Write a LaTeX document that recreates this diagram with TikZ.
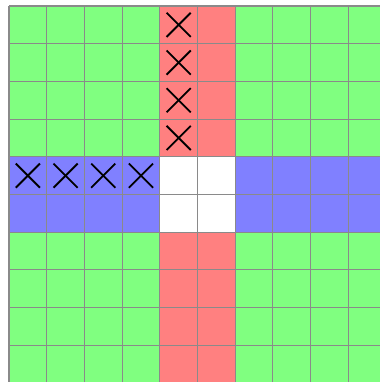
\documentclass[tikz,border=0pt]{standalone}
\usetikzlibrary{calc}
\definecolor{cgreen}{HTML}{80FF80}
\definecolor{cred}{HTML}{FF8080}
\definecolor{cblue}{HTML}{8080FF}
\definecolor{gline}{HTML}{8A8A8A}
\begin{document}
\begin{tikzpicture}[
  cell/.style={draw=gline, line width=0.8pt},
  xmark/.style={black, line width=1.4pt}
]
\useasboundingbox (-0.239,0.027) rectangle (9.814,10.159);
\foreach \i in {0,...,9}{
  \foreach \j in {0,...,9}{
    \pgfmathtruncatemacro{\incol}{(\i==4 || \i==5) ? 1 : 0}
    \pgfmathtruncatemacro{\inrow}{(\j==4 || \j==5) ? 1 : 0}
    \ifnum\incol=1
      \ifnum\inrow=1 \def\cc{white}\else \def\cc{cred}\fi
    \else
      \ifnum\inrow=1 \def\cc{cblue}\else \def\cc{cgreen}\fi
    \fi
    \path[fill=\cc] (\i,9-\j) rectangle ++(1,1);
  }
}
\foreach \k in {0,...,10}{
  \draw[cell] (\k,0) -- (\k,10);
  \draw[cell] (0,\k) -- (10,\k);
}
\foreach \j in {0,...,3}{
  \coordinate (a\j) at (4.5,9.5-\j);
  \draw[xmark] ($(a\j)+(-0.32,-0.32)$) -- ($(a\j)+(0.32,0.32)$);
  \draw[xmark] ($(a\j)+(-0.32,0.32)$) -- ($(a\j)+(0.32,-0.32)$);
}
\foreach \i in {0,...,3}{
  \coordinate (b\i) at (\i+0.5,5.5);
  \draw[xmark] ($(b\i)+(-0.32,-0.32)$) -- ($(b\i)+(0.32,0.32)$);
  \draw[xmark] ($(b\i)+(-0.32,0.32)$) -- ($(b\i)+(0.32,-0.32)$);
}
\end{tikzpicture}
\end{document}
